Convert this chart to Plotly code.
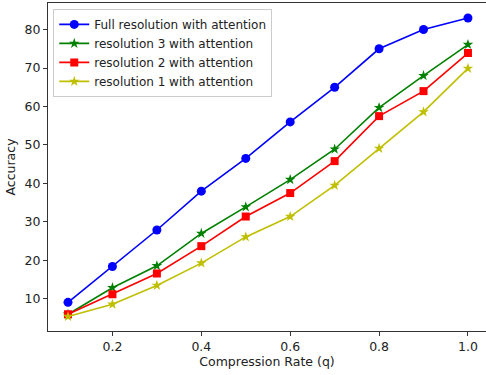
import plotly.graph_objects as go

rates = [0.1, 0.2, 0.3, 0.4, 0.5, 0.6, 0.7, 0.8, 0.9, 1.0]
full_res = [9.1, 18.4, 27.9, 38.0, 46.5, 56.0, 65.0, 75.0, 80.0, 83.0]
res3 = [6.0, 12.9, 18.6, 27.0, 33.9, 41.0, 48.9, 59.7, 68.0, 76.1]
res2 = [6.0, 11.2, 16.6, 23.7, 31.4, 37.5, 45.8, 57.5, 64.0, 73.9]
res1 = [5.4, 8.6, 13.5, 19.3, 26.1, 31.4, 39.5, 49.1, 58.6, 69.9]

series = [
    ("Full resolution with attention", full_res, "#0000ff", "circle", 9),
    ("resolution 3 with attention", res3, "#008000", "star", 8),
    ("resolution 2 with attention", res2, "#ff0000", "square", 8),
    ("resolution 1 with attention", res1, "#bfbf00", "star", 8),
]

fig = go.Figure()
for name, vals, color, sym, size in series:
    fig.add_trace(go.Scatter(
        x=rates, y=vals, name=name, mode="lines+markers",
        line=dict(color=color, width=1.6),
        marker=dict(symbol=sym, size=size, color=color, line=dict(width=0)),
    ))

fig.update_layout(
    width=486, height=375,
    margin=dict(l=48, r=0, t=3, b=44),
    paper_bgcolor="white", plot_bgcolor="white",
    font=dict(family="DejaVu Sans", size=12, color="#222222"),
    showlegend=True,
    legend=dict(
        x=0.012, y=0.982, xanchor="left", yanchor="top",
        bgcolor="rgba(255,255,255,0.85)", bordercolor="#cccccc", borderwidth=1,
        font=dict(family="DejaVu Sans", size=12, color="#222222"),
        tracegroupgap=0, itemwidth=30,
    ),
    xaxis=dict(
        range=[0.055, 1.0406], tickvals=[0.2, 0.4, 0.6, 0.8, 1.0],
        ticktext=["0.2", "0.4", "0.6", "0.8", "1.0"],
        showgrid=False, zeroline=False, automargin=False,
        showline=True, linecolor="#333333", linewidth=1, mirror=True,
        ticks="outside", ticklen=4, tickcolor="#333333",
        tickfont=dict(family="DejaVu Sans", size=12.5, color="#222222"),
        title=dict(text="Compression Rate (q)", standoff=4,
                   font=dict(family="DejaVu Sans", size=12.5, color="#222222")),
    ),
    yaxis=dict(
        range=[1.65, 86.9], tickvals=[10, 20, 30, 40, 50, 60, 70, 80],
        showgrid=False, zeroline=False, automargin=False,
        showline=True, linecolor="#333333", linewidth=1, mirror=False,
        ticks="outside", ticklen=4, tickcolor="#333333",
        tickfont=dict(family="DejaVu Sans", size=12.5, color="#222222"),
        title=dict(text="Accuracy", standoff=6,
                   font=dict(family="DejaVu Sans", size=12.5, color="#222222")),
    ),
)

fig.write_html("out.html", config={"displayModeBar": False},
               post_script="document.body.style.margin='0';")
